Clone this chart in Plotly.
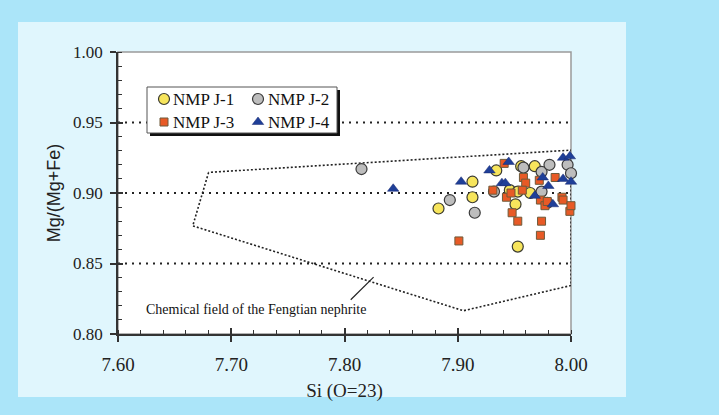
import plotly.graph_objects as go

# ---------------- data ----------------
j1_x = [7.883, 7.913, 7.913, 7.934, 7.956, 7.968, 7.946, 7.953, 7.964, 7.951, 7.953]
j1_y = [0.889, 0.908, 0.897, 0.916, 0.919, 0.919, 0.902, 0.901, 0.900, 0.892, 0.862]

j2_x = [7.815, 7.893, 7.915, 7.932, 7.958, 7.974, 7.981, 7.974, 7.997, 8.000, 7.979]
j2_y = [0.917, 0.895, 0.886, 0.901, 0.918, 0.915, 0.920, 0.901, 0.920, 0.914, 0.893]

j3_x = [7.901, 7.931, 7.941, 7.943, 7.947, 7.948, 7.953, 7.958, 7.960, 7.957, 7.974,
        7.973, 7.972, 7.973, 7.977, 7.979, 7.986, 7.992, 7.993, 7.999, 8.000]
j3_y = [0.866, 0.902, 0.921, 0.897, 0.900, 0.886, 0.880, 0.911, 0.907, 0.902, 0.880,
        0.870, 0.909, 0.895, 0.891, 0.894, 0.911, 0.897, 0.895, 0.887, 0.891]

j4_x = [7.843, 7.903, 7.928, 7.939, 7.942, 7.945, 7.968, 7.975, 7.980, 7.984, 7.993,
        7.993, 7.999, 8.001, 8.000]
j4_y = [0.903, 0.908, 0.916, 0.907, 0.907, 0.922, 0.898, 0.911, 0.905, 0.892, 0.925,
        0.910, 0.926, 0.922, 0.908]

field_x = [7.680, 7.666, 7.905, 8.000, 8.000, 7.680]
field_y = [0.9146, 0.8767, 0.8165, 0.8344, 0.9304, 0.9146]

pointer_x = [7.8055, 7.8257]
pointer_y = [0.8243, 0.8403]

grid_values = [0.85, 0.90, 0.95]
x_ticks = [7.60, 7.70, 7.80, 7.90, 8.00]
y_ticks = [0.80, 0.85, 0.90, 0.95, 1.00]

series_names = ["NMP J-1", "NMP J-2", "NMP J-3", "NMP J-4"]
field_label = "Chemical field of the Fengtian nephrite"
x_title = "Si (O=23)"
y_title = "Mg/(Mg+Fe)"

# ---------------- styles ----------------
SERIF = "Liberation Serif, Times New Roman, serif"
SANS = "Liberation Sans, Arial, sans-serif"
styles = [
    dict(symbol="circle", size=11, color="#f7e55c", line=dict(color="#3a3a30", width=1.2)),
    dict(symbol="circle", size=11, color="#bdbdbd", line=dict(color="#3a3a3a", width=1.2)),
    dict(symbol="square", size=8, color="#e85a26", line=dict(color="#6e5a3a", width=1)),
    dict(symbol="triangle-up", size=10, color="#1f3f98", line=dict(color="#1a2a70", width=0.5)),
]
data_xy = [(j1_x, j1_y), (j2_x, j2_y), (j3_x, j3_y), (j4_x, j4_y)]

W, H = 719, 415
ML, MR, MT, MB = 118, 148, 52, 81
PW, PH = W - ML - MR, H - MT - MB

fig = go.Figure()

# chemical field polygon
fig.add_trace(go.Scatter(x=field_x, y=field_y, mode="lines",
                         line=dict(color="#222222", width=1.6, dash="2px,2px"),
                         hoverinfo="skip", showlegend=False, cliponaxis=False))
# pointer line
fig.add_trace(go.Scatter(x=pointer_x, y=pointer_y, mode="lines",
                         line=dict(color="#222222", width=1.2),
                         hoverinfo="skip", showlegend=False))

# data series
for (xs, ys), st, nm in zip(data_xy, styles, series_names):
    fig.add_trace(go.Scatter(x=xs, y=ys, mode="markers", name=nm, marker=st,
                             showlegend=False, cliponaxis=False))

# ---------------- manual legend (overlay axes x2/y2, 0..1) ----------------
leg_x0, leg_x1 = (147 - ML) / PW, (337 - ML) / PW
leg_y0, leg_y1 = (334 - 133) / PH, (334 - 87) / PH
row_y = [(334 - 99) / PH, (334 - 122) / PH]
col_x = [(164 - ML) / PW, (258 - ML) / PW]
txt_x = [(171 - ML) / PW, (266 - ML) / PW]
for i, (nm, st) in enumerate(zip(series_names, styles)):
    r, c = divmod(i, 2)
    fig.add_trace(go.Scatter(x=[col_x[c]], y=[row_y[r]], mode="markers", marker=st,
                             xaxis="x2", yaxis="y2", showlegend=False, hoverinfo="skip",
                             cliponaxis=False))
    fig.add_annotation(x=txt_x[c], y=row_y[r], xref="x domain", yref="y domain",
                       text=nm, showarrow=False, xanchor="left", yanchor="middle",
                       font=dict(family=SERIF, size=17, color="#111111"))

# dummy trace for cross-tick overlay axes
fig.add_trace(go.Scatter(x=[None], y=[None], xaxis="x3", yaxis="y3",
                         showlegend=False, hoverinfo="skip"))

shapes = []
# inner light panel
shapes.append(dict(type="rect", xref="paper", yref="paper", layer="below",
                   x0=(18 - ML) / PW, x1=(626 - ML) / PW,
                   y0=-(397 - 334) / PH, y1=1 + (52 - 22) / PH,
                   fillcolor="#e0f6fd", line=dict(width=0)))
# plot area white with gray frame
shapes.append(dict(type="rect", xref="paper", yref="paper", layer="below",
                   x0=0, x1=1, y0=0, y1=1, fillcolor="#ffffff",
                   line=dict(color="#9a9a9a", width=1.5)))
# dotted gridlines
for gv in grid_values:
    shapes.append(dict(type="line", xref="x domain", yref="y", x0=0, x1=1, y0=gv, y1=gv,
                       line=dict(color="#222222", width=1.8, dash="2px,5px"), layer="below"))
# legend shadow + box
shapes.append(dict(type="rect", xref="x domain", yref="y domain", layer="below",
                   x0=leg_x0 + 3 / PW, x1=leg_x1 + 3 / PW, y0=leg_y0 - 3 / PH, y1=leg_y1 - 3 / PH,
                   fillcolor="#111111", line=dict(width=0)))
shapes.append(dict(type="rect", xref="x domain", yref="y domain", layer="below",
                   x0=leg_x0, x1=leg_x1, y0=leg_y0, y1=leg_y1,
                   fillcolor="#ffffff", line=dict(color="#555555", width=1)))

fig.add_annotation(x=7.6 + (143.5 - ML) / PW * 0.4, y=0.8 + (334 - 309) / PH * 0.2,
                   text=field_label, showarrow=False, xanchor="left", yanchor="middle",
                   font=dict(family=SERIF, size=14, color="#111111"))

axis_common = dict(showgrid=False, zeroline=False, linecolor="#333333", linewidth=1.5,
                   tickcolor="#333333", tickwidth=1.5, ticklen=6, ticks="outside")

fig.update_layout(
    width=W, height=H,
    margin=dict(l=ML, r=MR, t=MT, b=MB),
    paper_bgcolor="#abe5f9",
    plot_bgcolor="rgba(0,0,0,0)",
    shapes=shapes,
    showlegend=False,
    xaxis=dict(range=[7.6, 8.0], tickvals=x_ticks, tickformat=".2f",
               tickfont=dict(family=SERIF, size=19, color="#222222"),
               ticklabelstandoff=6,
               title=dict(text=x_title, font=dict(family=SERIF, size=19, color="#222222"),
                          standoff=10),
               minor=dict(dtick=0.02, ticks="inside", ticklen=4, tickcolor="#333333",
                          tickwidth=1.2),
               anchor="y", **axis_common),
    yaxis=dict(range=[0.8, 1.0], tickvals=y_ticks, tickformat=".2f",
               tickfont=dict(family=SERIF, size=17, color="#222222"),
               ticklabelstandoff=4,
               title=dict(text=y_title, font=dict(family=SANS, size=18, color="#222222"),
                          standoff=8),
               minor=dict(dtick=0.01, ticks="inside", ticklen=4, tickcolor="#333333",
                          tickwidth=1.2),
               anchor="x", **axis_common),
    xaxis2=dict(range=[0, 1], overlaying="x", visible=False, anchor="y2"),
    yaxis2=dict(range=[0, 1], overlaying="y", visible=False, anchor="x2"),
    xaxis3=dict(range=[7.6, 8.0], overlaying="x", anchor="y", tickvals=x_ticks,
                ticks="inside", ticklen=6, tickwidth=1.5, tickcolor="#333333",
                showticklabels=False, showgrid=False, zeroline=False, showline=False),
    yaxis3=dict(range=[0.8, 1.0], overlaying="y", anchor="x", tickvals=y_ticks,
                ticks="inside", ticklen=5, tickwidth=1.5, tickcolor="#333333",
                showticklabels=False, showgrid=False, zeroline=False, showline=False),
)

fig.write_html("out.html")
